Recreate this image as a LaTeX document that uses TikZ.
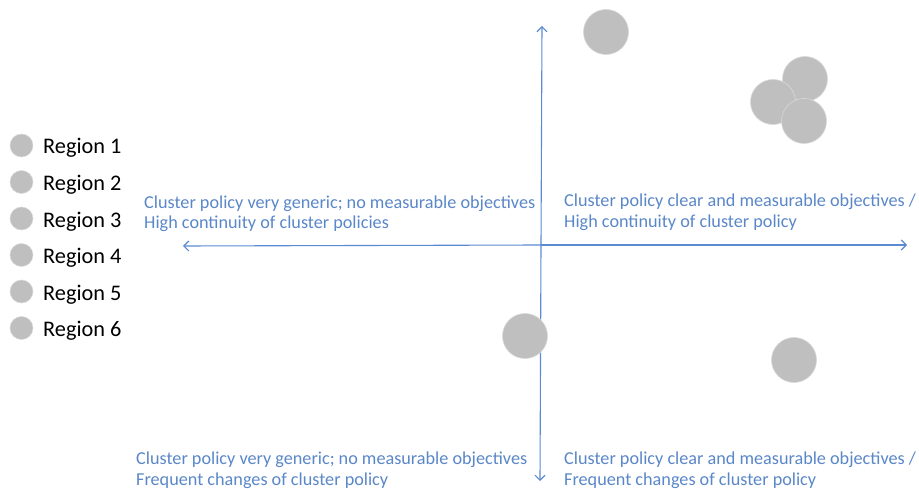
\documentclass[tikz,border=0pt]{standalone}
\usepackage{fontspec}
\setmainfont{Carlito}
\usetikzlibrary{arrows.meta}
\definecolor{axisblue}{HTML}{5B8AD0}
\definecolor{txtblue}{HTML}{5A87C8}
\definecolor{dotgray}{HTML}{BFBFBF}
\tikzset{
  dot/.style={circle, fill=dotgray, draw=dotgray!60!white, line width=0.6pt, minimum size=45pt, inner sep=0pt},
  legdot/.style={circle, fill=dotgray, draw=dotgray!60!white, line width=0.5pt, minimum size=23pt, inner sep=0pt},
  legtxt/.style={anchor=base west, inner sep=0pt, font=\fontsize{22.3}{26}\selectfont, text=black},
  lbl/.style={anchor=base west, inner sep=0pt, font=\fontsize{18.2}{21}\selectfont, text=txtblue},
  axis/.style={draw=axisblue, line width=1.1pt, -{Straight Barb[length=5pt,width=10pt]}}
}
\begin{document}
\begin{tikzpicture}[x=1pt,y=-1pt]
\useasboundingbox (0,0) rectangle (919,489);
% legend
\foreach \i in {1,...,6}{
  \node[legdot] (ld\i) at (21.5,{145.5+36.5*(\i-1)}) {};
  \node[legtxt] (lt\i) at (43,{154+36.6*(\i-1)}) {Region \i};
}
% axes
\coordinate (ctr) at (541,245);
\coordinate (vtop) at (542,26);
\coordinate (vbot) at (540,481);
\coordinate (hleft) at (183,246);
\coordinate (hright) at (907,245);
\draw[axis] (ctr) -- (vtop);
\draw[axis] (ctr) -- (vbot);
\draw[axis] (ctr) -- (hleft);
\draw[axis] (ctr) -- (hright);
% labels
\node[lbl] (tl1) at (144,209) {Cluster policy very generic; no measurable objectives};
\node[lbl] (tl2) at (144,229) {High continuity of cluster policies};
\node[lbl] (tr1) at (564,207) {Cluster policy clear and measurable objectives /};
\node[lbl] (tr2) at (564,228) {High continuity of cluster policy};
\node[lbl] (bl1) at (136,464) {Cluster policy very generic; no measurable objectives};
\node[lbl] (bl2) at (136,485) {Frequent changes of cluster policy};
\node[lbl] (br1) at (564,464) {Cluster policy clear and measurable objectives /};
\node[lbl] (br2) at (564,485) {Frequent changes of cluster policy};
% regions
\node[dot] (r1) at (606,32) {};
\node[dot] (r2) at (805,79) {};
\node[dot] (r3) at (773,102) {};
\node[dot] (r4) at (804,121) {};
\node[dot] (r5) at (525,336) {};
\node[dot] (r6) at (794,360) {};
\end{tikzpicture}
\end{document}
